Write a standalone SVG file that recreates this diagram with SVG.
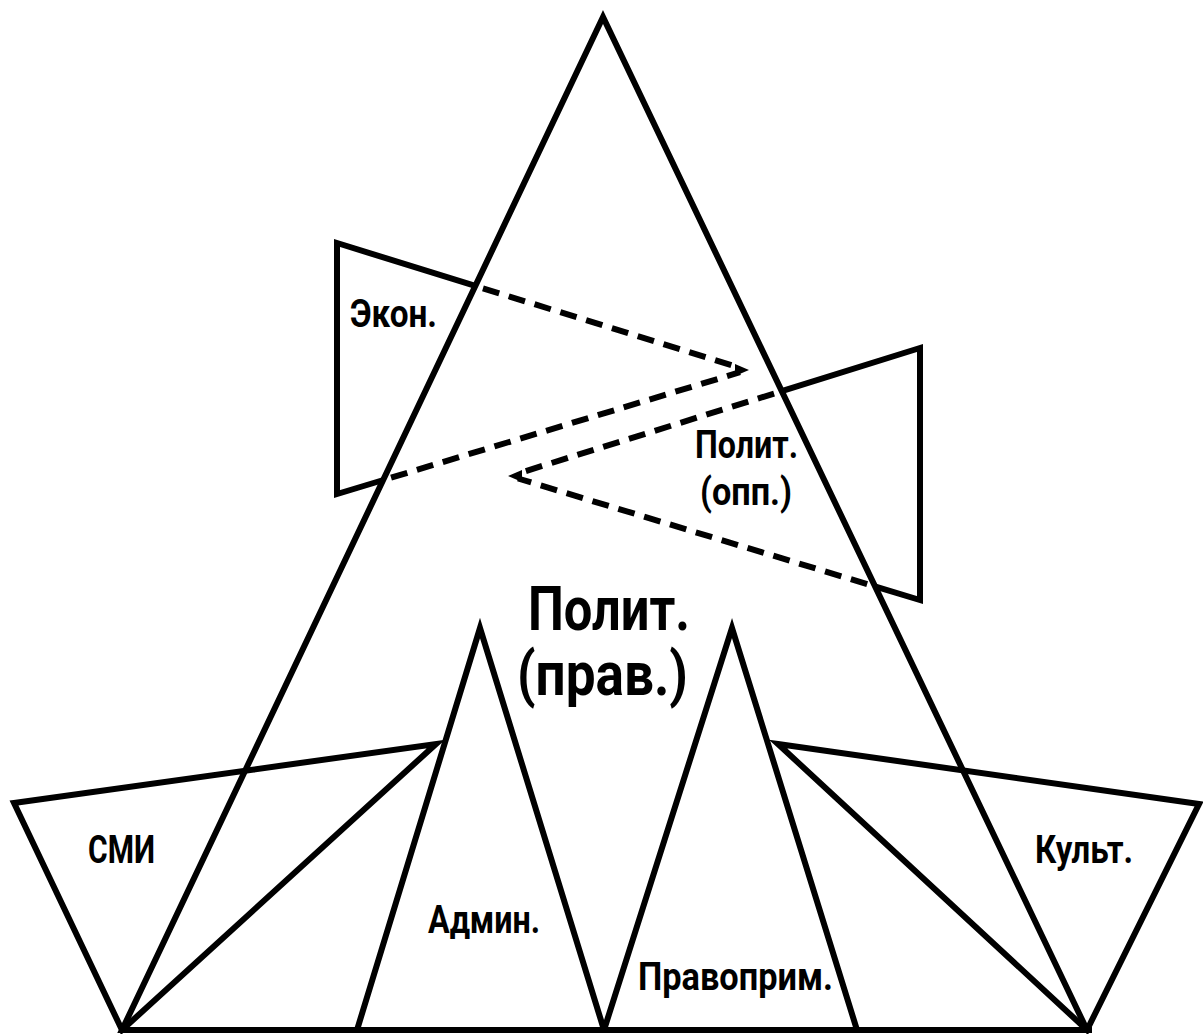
<svg xmlns="http://www.w3.org/2000/svg" width="1203" height="1034" viewBox="0 0 1203 1034">
<style>
.s{fill:none;stroke:#000;stroke-width:6;stroke-linejoin:miter;stroke-miterlimit:10}
.d{fill:none;stroke:#000;stroke-width:6;stroke-dasharray:17 10}
.t{font-family:Roboto,"Open Sans","DejaVu Sans Condensed",sans-serif;font-weight:bold;fill:#000}
.sm{font-size:38px}
.lg{font-size:62px}
</style>
<rect width="1203" height="1034" fill="#fff"/>
<g id="polit-prav">
<polygon class="s" points="603,17 122,1030 1087,1030"/>
<line class="s" x1="120" y1="1030" x2="1092" y2="1030"/>
<text class="t lg" x="528" y="630" textLength="162" lengthAdjust="spacingAndGlyphs">Полит.</text>
<text class="t lg" x="517" y="695" textLength="171" lengthAdjust="spacingAndGlyphs">(прав.)</text>
</g>
<g id="ekon">
<polyline class="s" points="475.3,285.9 337,243 337,494 383.4,480"/>
<text class="t sm" x="350" y="327" textLength="87" lengthAdjust="spacingAndGlyphs">Экон.</text>
</g>
<g id="polit-opp">
<polyline class="s" points="781.7,391.2 920,348 920,600 874.8,586.4"/>
<text class="t sm" x="695" y="458" textLength="103" lengthAdjust="spacingAndGlyphs">Полит.</text>
<text class="t sm" x="700" y="505" textLength="92" lengthAdjust="spacingAndGlyphs">(опп.)</text>
</g>
<g id="smi">
<polygon class="s" points="14,803 436,744 122,1030"/>
<text class="t sm" x="88" y="863" textLength="67" lengthAdjust="spacingAndGlyphs">СМИ</text>
</g>
<g id="admin">
<polygon class="s" points="480,628 357,1030 604,1030"/>
<text class="t sm" x="428" y="933" textLength="112" lengthAdjust="spacingAndGlyphs">Админ.</text>
</g>
<g id="pravoprim">
<polygon class="s" points="732,628 604,1030 857,1030"/>
<text class="t sm" x="638" y="990" textLength="195" lengthAdjust="spacingAndGlyphs">Правоприм.</text>
</g>
<g id="kult">
<polygon class="s" points="778,744 1199,804 1087,1030"/>
<text class="t sm" x="1035" y="863" textLength="98" lengthAdjust="spacingAndGlyphs">Культ.</text>
</g>
<g id="connectors">
<line class="d" x1="475.3" y1="285.9" x2="740" y2="367.8" stroke-dashoffset="-8"/>
<line class="d" x1="383.4" y1="480" x2="740" y2="372.2" stroke-dashoffset="-8"/>
<polygon points="749,370 735,364 735,376" fill="#000"/>
<line class="d" x1="781.7" y1="391.2" x2="518" y2="473.5" stroke-dashoffset="-8"/>
<line class="d" x1="874.8" y1="586.4" x2="518" y2="478.5" stroke-dashoffset="-8"/>
<polygon points="508,476 522,470 522,482" fill="#000"/>
</g>
</svg>
